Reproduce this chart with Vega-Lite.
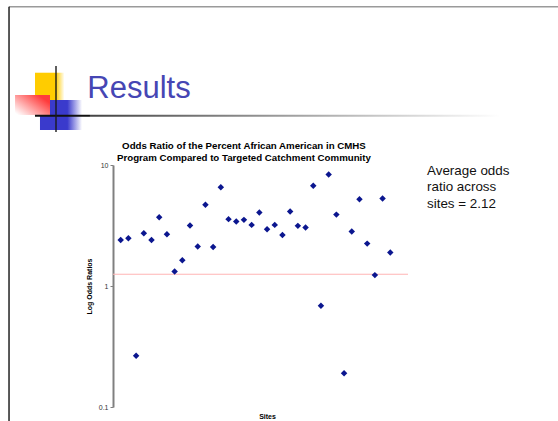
{
  "$schema": "https://vega.github.io/schema/vega-lite/v6.json",
  "width": 295,
  "height": 242,
  "autosize": "none",
  "padding": {"left": 113, "top": 165, "right": 150, "bottom": 14},
  "background": "white",
  "config": {
    "view": {"stroke": null},
    "font": "Liberation Sans",
    "axis": {"grid": false}
  },
  "datasets": {
    "sites": [
      {"site": 1, "ratio": 2.40},
      {"site": 2, "ratio": 2.48},
      {"site": 3, "ratio": 0.265},
      {"site": 4, "ratio": 2.73},
      {"site": 5, "ratio": 2.40},
      {"site": 6, "ratio": 3.70},
      {"site": 7, "ratio": 2.68},
      {"site": 8, "ratio": 1.32},
      {"site": 9, "ratio": 1.63},
      {"site": 10, "ratio": 3.16},
      {"site": 11, "ratio": 2.12},
      {"site": 12, "ratio": 4.69},
      {"site": 13, "ratio": 2.10},
      {"site": 14, "ratio": 6.56},
      {"site": 15, "ratio": 3.57},
      {"site": 16, "ratio": 3.41},
      {"site": 17, "ratio": 3.52},
      {"site": 18, "ratio": 3.20},
      {"site": 19, "ratio": 4.05},
      {"site": 20, "ratio": 2.95},
      {"site": 21, "ratio": 3.20},
      {"site": 22, "ratio": 2.64},
      {"site": 23, "ratio": 4.12},
      {"site": 24, "ratio": 3.14},
      {"site": 25, "ratio": 3.04},
      {"site": 26, "ratio": 6.73},
      {"site": 27, "ratio": 0.687},
      {"site": 28, "ratio": 8.35},
      {"site": 29, "ratio": 3.89},
      {"site": 30, "ratio": 0.19},
      {"site": 31, "ratio": 2.82},
      {"site": 32, "ratio": 5.22},
      {"site": 33, "ratio": 2.24},
      {"site": 34, "ratio": 1.23},
      {"site": 35, "ratio": 5.28},
      {"site": 36, "ratio": 1.89}
    ],
    "one": [{"item": "annotation"}]
  },
  "layer": [
    {
      "data": {"name": "one"},
      "mark": {"type": "rule", "color": "#ffb4b4", "strokeWidth": 1.2, "clip": false},
      "encoding": {
        "x": {"datum": 0, "type": "quantitative"},
        "x2": {"datum": 38.3},
        "y": {"datum": 1.25, "type": "quantitative"}
      }
    },
    {
      "data": {"name": "sites"},
      "mark": {"type": "point", "shape": "diamond", "filled": true, "size": 42, "opacity": 1, "color": "#0b168f", "clip": false},
      "encoding": {
        "x": {
          "field": "site", "type": "quantitative",
          "scale": {"domain": [0, 38.3], "nice": false, "zero": false},
          "axis": {"domain": false, "ticks": false, "labels": false, "title": "Sites", "titleFontSize": 7, "titleFontWeight": "bold", "titleColor": "#000000", "titlePadding": 5, "titleX": 154}
        },
        "y": {
          "field": "ratio", "type": "quantitative",
          "scale": {"type": "log", "domain": [0.1, 10], "nice": false},
          "axis": {"values": [0.1, 1, 10], "format": "~g", "labelFontSize": 7, "labelColor": "#333333", "labelPadding": 2, "tickSize": 3, "tickColor": "#808080", "domainColor": "#808080", "domainWidth": 2, "title": "Log Odds Ratios", "titleFontSize": 7, "titleFontWeight": "bold", "titleColor": "#000000", "titlePadding": 6}
        }
      }
    },
    {
      "data": {"name": "one"},
      "mark": {"type": "text", "text": ["Odds Ratio of the Percent African American in CMHS", "Program Compared to Targeted Catchment Community"], "font": "Liberation Sans", "fontSize": 9.7, "fontWeight": "bold", "lineHeight": 11.6, "color": "#000000", "align": "center", "baseline": "alphabetic", "clip": false},
      "encoding": {
        "x": {"datum": 17.0, "type": "quantitative"},
        "y": {"datum": 13.56, "type": "quantitative"}
      }
    },
    {
      "data": {"name": "one"},
      "mark": {"type": "rule", "color": "#9a9a9a", "strokeWidth": 1.5, "clip": false},
      "encoding": {
        "x": {"datum": -13.5, "type": "quantitative"},
        "x2": {"datum": 57.8},
        "y": {"datum": 203, "type": "quantitative"}
      }
    },
    {
      "data": {"name": "one"},
      "mark": {"type": "rule", "color": "#000000", "strokeWidth": 1.3, "clip": false},
      "encoding": {
        "x": {"datum": -13.5, "type": "quantitative"},
        "y": {"datum": 203, "type": "quantitative"},
        "y2": {"datum": 0.07}
      }
    },
    {
      "data": {"name": "one"},
      "mark": {"type": "rect", "clip": false, "color": {"gradient": "linear", "x1": 0, "y1": 0, "x2": 1, "y2": 0, "stops": [{"offset": 0, "color": "#ffcc00"}, {"offset": 0.7, "color": "#ffcc00"}, {"offset": 1, "color": "#ffffff"}]}},
      "encoding": {
        "x": {"datum": -10.13, "type": "quantitative"},
        "x2": {"datum": -6.3},
        "y": {"datum": 57.9, "type": "quantitative"},
        "y2": {"datum": 34.45}
      }
    },
    {
      "data": {"name": "one"},
      "mark": {"type": "rect", "clip": false, "color": {"gradient": "linear", "x1": 0, "y1": 0, "x2": 1, "y2": 0, "stops": [{"offset": 0, "color": "#3a3acc"}, {"offset": 0.65, "color": "#3a3acc"}, {"offset": 1, "color": "#ffffff"}]}},
      "encoding": {
        "x": {"datum": -9.48, "type": "quantitative"},
        "x2": {"datum": -4.02},
        "y": {"datum": 34.45, "type": "quantitative"},
        "y2": {"datum": 19.47}
      }
    },
    {
      "data": {"name": "one"},
      "mark": {"type": "rect", "clip": false, "color": {"gradient": "linear", "x1": 0, "y1": 0.9, "x2": 1, "y2": 0.1, "stops": [{"offset": 0, "color": "#ffffff"}, {"offset": 0.85, "color": "#ff3b3b"}, {"offset": 1, "color": "#ff3b3b"}]}},
      "encoding": {
        "x": {"datum": -12.72, "type": "quantitative"},
        "x2": {"datum": -8.18},
        "y": {"datum": 37.9, "type": "quantitative"},
        "y2": {"datum": 25.9}
      }
    },
    {
      "data": {"name": "one"},
      "mark": {"type": "rect", "clip": false, "color": {"gradient": "linear", "x1": 0, "y1": 0, "x2": 1, "y2": 0, "stops": [{"offset": 0, "color": "#444444"}, {"offset": 1, "color": "#ffffff"}]}},
      "encoding": {
        "x": {"datum": -2.99, "type": "quantitative"},
        "x2": {"datum": 50.25},
        "y": {"datum": 26.04, "type": "quantitative"},
        "y2": {"datum": 25.07}
      }
    },
    {
      "data": {"name": "one"},
      "mark": {"type": "rule", "color": "#111111", "strokeWidth": 2, "clip": false},
      "encoding": {
        "x": {"datum": -10.13, "type": "quantitative"},
        "x2": {"datum": -2.99},
        "y": {"datum": 25.55, "type": "quantitative"}
      }
    },
    {
      "data": {"name": "one"},
      "mark": {"type": "rule", "color": "#1a1a1a", "strokeWidth": 1.4, "clip": false},
      "encoding": {
        "x": {"datum": -7.4, "type": "quantitative"},
        "y": {"datum": 65.8, "type": "quantitative"},
        "y2": {"datum": 18.74}
      }
    },
    {
      "data": {"name": "one"},
      "mark": {"type": "text", "text": "Results", "font": "Liberation Sans", "fontSize": 31, "color": "#4646b4", "align": "left", "baseline": "alphabetic", "clip": false},
      "encoding": {
        "x": {"datum": -3.34, "type": "quantitative"},
        "y": {"datum": 35.6, "type": "quantitative"}
      }
    },
    {
      "data": {"name": "one"},
      "mark": {"type": "text", "text": ["Average odds", "ratio across", "sites = 2.12"], "font": "Liberation Sans", "fontSize": 13.4, "lineHeight": 16.5, "color": "#111111", "align": "left", "baseline": "alphabetic", "clip": false},
      "encoding": {
        "x": {"datum": 40.77, "type": "quantitative"},
        "y": {"datum": 8.3, "type": "quantitative"}
      }
    }
  ]
}
